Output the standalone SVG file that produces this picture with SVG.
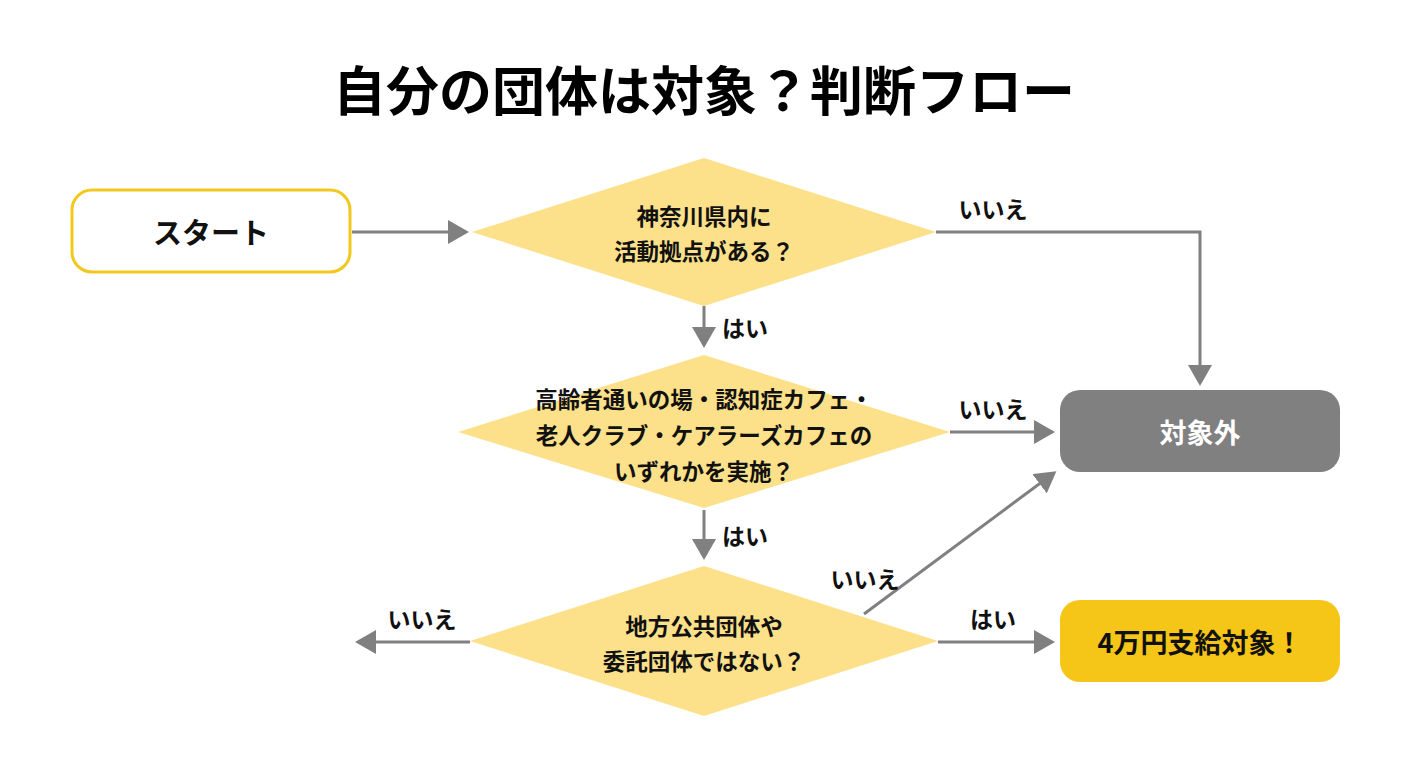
<svg xmlns="http://www.w3.org/2000/svg" width="1408" height="768" viewBox="0 0 1408 768">
<defs>
<style>
text{font-family:"Noto Sans CJK JP","Noto Sans",sans-serif;font-weight:bold;text-anchor:middle;dominant-baseline:central;fill:#111}
.d{fill:#FCE08A}
.c{stroke:#808080;stroke-width:3;fill:none}
.a{marker-end:url(#ah)}
.lb{font-size:23px}
.dt{font-size:22.5px}
</style>
<marker id="ah" markerWidth="8" markerHeight="8" refX="6" refY="4" orient="auto" markerUnits="strokeWidth"><path d="M0,0 L7,4 L0,8 z" fill="#808080"/></marker>
</defs>
<rect width="1408" height="768" fill="#fff"/>
<text x="704" y="88" style="font-size:53px;fill:#000">自分の団体は対象？判断フロー</text>
<g id="connectors">
<path class="c a" d="M352,232 H466"/>
<path class="c a" d="M936,232 H1200 V383"/>
<path class="c a" d="M704,306 V345"/>
<path class="c a" d="M950,432 H1052"/>
<path class="c a" d="M704,510 V557"/>
<path class="c a" d="M470,642 H358"/>
<path class="c a" d="M864,614 L1054,473"/>
<path class="c a" d="M938,642 H1052"/>
<text class="lb" x="993" y="208">いいえ</text>
<text class="lb" x="745" y="327">はい</text>
<text class="lb" x="993" y="408">いいえ</text>
<text class="lb" x="745" y="535">はい</text>
<text class="lb" x="422" y="618">いいえ</text>
<text class="lb" x="865" y="578">いいえ</text>
<text class="lb" x="993" y="618">はい</text>
</g>
<g id="start"><rect x="72" y="190" width="278" height="82" rx="20" fill="#fff" stroke="#F2C81E" stroke-width="3"/><text x="211" y="231" style="font-size:29px">スタート</text></g>
<g id="q1"><polygon class="d" points="704,158 936,232 704,306 472,232"/><text class="dt" x="704" y="215">神奈川県内に</text><text class="dt" x="704" y="250">活動拠点がある？</text></g>
<g id="q2"><polygon class="d" points="704,355 950,432 704,508 458,432"/><text class="dt" x="704" y="398">高齢者通いの場・認知症カフェ・</text><text class="dt" x="704" y="434">老人クラブ・ケアラーズカフェの</text><text class="dt" x="704" y="470">いずれかを実施？</text></g>
<g id="q3"><polygon class="d" points="704,566 938,641 704,716 470,641"/><text class="dt" x="704" y="625">地方公共団体や</text><text class="dt" x="704" y="660">委託団体ではない？</text></g>
<g id="out"><rect x="1060" y="390" width="280" height="82" rx="20" fill="#808080"/><text x="1200" y="431" style="font-size:27px;fill:#fff">対象外</text></g>
<g id="ok"><rect x="1060" y="600" width="280" height="82" rx="20" fill="#F5C518"/><text x="1200" y="641" style="font-size:27px">4万円支給対象！</text></g>
</svg>
